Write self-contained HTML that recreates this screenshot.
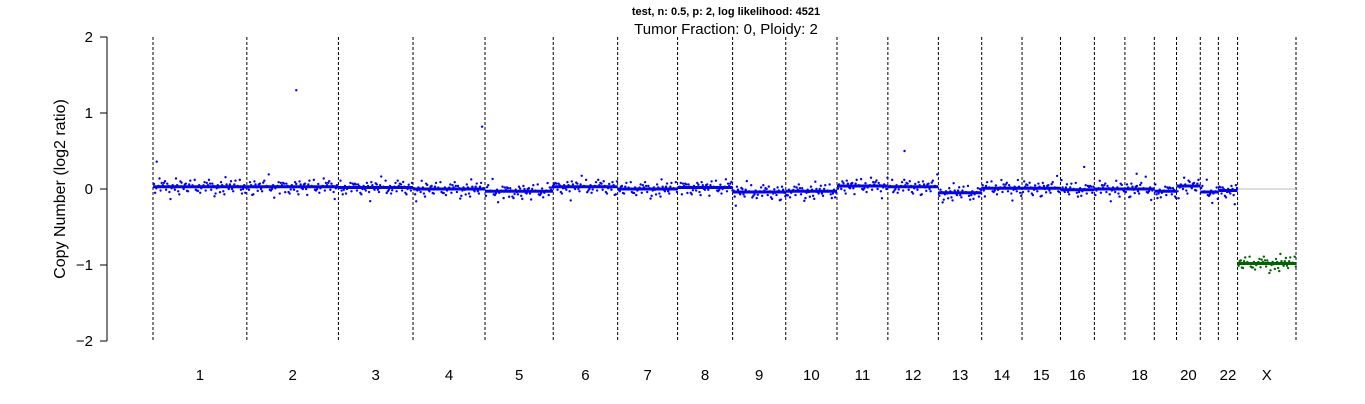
<!DOCTYPE html>
<html><head><meta charset="utf-8"><style>
body{margin:0;background:#fff;}
svg{display:block;font-family:"Liberation Sans",sans-serif;}
</style></head><body>
<svg id="chart" width="1365" height="404" viewBox="0 0 1365 404">
<text x="726" y="15" text-anchor="middle" font-size="11" font-weight="bold">test, n: 0.5, p: 2, log likelihood: 4521</text>
<text x="726" y="34" text-anchor="middle" font-size="15">Tumor Fraction: 0, Ploidy: 2</text>
<text transform="translate(65,189) rotate(-90)" text-anchor="middle" font-size="16">Copy Number (log2 ratio)</text>
<g id="yaxis"></g>
<g id="grid"></g><g id="pts"></g><g id="segs"></g><g id="xlab"></g>
</svg>
<script>
const chroms=["1","2","3","4","5","6","7","8","9","10","11","12","13","14","15","16","17","18","19","20","21","22","X"];
const chromLengths=[249,243,198,191,181,171,159,146,141,136,135,134,115,107,102,90,81,78,59,63,48,51,155];
const segMeans=[0.03,0.03,0.02,0.0,-0.03,0.03,0.0,0.02,-0.04,-0.03,0.04,0.03,-0.05,0.01,0.01,-0.01,0.0,0.0,-0.03,0.04,-0.04,-0.02,-0.98];
const shownLabels=["1","2","3","4","5","6","7","8","9","10","11","12","13","14","15","16","18","20","22","X"];
const yTicks=[2,1,0,-1,-2];
const outlierChrom=[0,1,3,11,15,17];
const outlierPos=[0.04,0.54,0.96,0.33,0.7,0.4];
const outlierVal=[0.36,1.3,0.82,0.5,0.29,0.2];
const noise=[0.02,-0.05,0.04,-0.01,0.07,-0.03,0.0,-0.08,0.05,0.01,-0.04,0.03,-0.06,0.09,-0.02,0.02,-0.07,0.06,-0.01,0.03,-0.04,0.0,0.05,-0.09,0.02,-0.03,0.08,-0.05,0.01,0.04,-0.02,-0.06,0.03,0.0,-0.03,0.06,-0.04,0.02,-0.1,0.04,0.01];
const ns="http://www.w3.org/2000/svg";
const X0=153,X1=1296,total=chromLengths.reduce((a,b)=>a+b,0);
const xs=v=>X0+v/total*(X1-X0);
const ys=v=>189-v*76;
function mk(t,a,p){const e=document.createElementNS(ns,t);for(const k in a)e.setAttribute(k,a[k]);document.getElementById(p).appendChild(e);return e;}
let ax=mk("line",{x1:107,x2:107,y1:ys(2),y2:ys(-2),stroke:"#000"},"yaxis");

yTicks.forEach(t=>{
 let l=mk("line",{x1:100,x2:107,y1:ys(t),y2:ys(t),stroke:"#000"},"yaxis");
 
 let tx=mk("text",{x:93,y:ys(t)+5,"text-anchor":"end","font-size":15},"yaxis");
 tx.textContent=t<0?"\u2212"+(-t):String(t);
 
});
const starts=[];
let cum=0;
chroms.forEach((c,i)=>{
 const s=cum,e=cum+chromLengths[i];cum=e;starts.push(s);
 const xa=xs(s),xb=xs(e);
 let b=mk("line",{x1:xa,x2:xa,y1:37,y2:341,stroke:"#000","stroke-dasharray":"3,2"},"grid");
 
 if(i==chroms.length-1){let b2=mk("line",{x1:xb,x2:xb,y1:37,y2:341,stroke:"#000","stroke-dasharray":"3,2"},"grid");
  
  let z=mk("line",{x1:xa,x2:xb,y1:ys(0),y2:ys(0),stroke:"#bbb"},"grid");
  }
 const col=c=="X"?"#006400":"#0000ff";
 const n=Math.floor((xb-xa)/1.1);
 for(let k=0;k<n;k++){
  const v=segMeans[i]+noise[(k*7+i*3)%noise.length]*(1+((k+i)%5==0?0.8:0));
  let p=mk("circle",{cx:xa+1+k*1.1,cy:ys(v),r:1.2,fill:col},"pts");
  
 }
 let sg=mk("line",{x1:xa,x2:xb,y1:ys(segMeans[i]),y2:ys(segMeans[i]),stroke:col,"stroke-width":3},"segs");
 
 if(shownLabels.includes(c)){
  let t=mk("text",{x:(xa+xb)/2,y:380,"text-anchor":"middle","font-size":15},"xlab");
  t.textContent=c;
 }
});
outlierChrom.forEach((ci,j)=>{
 const x=xs(starts[ci]+outlierPos[j]*chromLengths[ci]);
 let p=mk("circle",{cx:x,cy:ys(outlierVal[j]),r:1.2,fill:"#0000ff"},"pts");
 
});
</script>
</body></html>
